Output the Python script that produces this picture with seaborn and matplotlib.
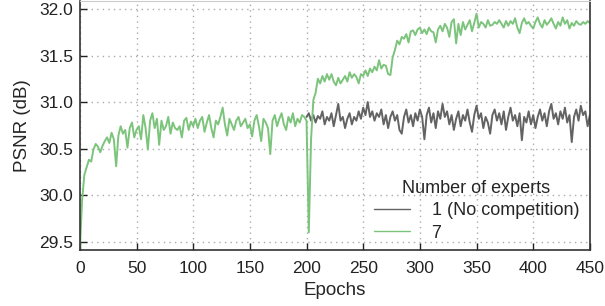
import numpy as np
import pandas as pd
import matplotlib
matplotlib.use("Agg")
import matplotlib.pyplot as plt
import seaborn as sns

# PSNR per epoch (read every 2 epochs off the reference)
psnr_7 = [
    29.42, 29.95, 30.22, 30.30, 30.38, 30.36, 30.49, 30.55, 30.52, 30.46,
    30.53, 30.58, 30.62, 30.56, 30.67, 30.60, 30.31, 30.64, 30.74, 30.66,
    30.70, 30.51, 30.72, 30.78, 30.62, 30.70, 30.74, 30.60, 30.86, 30.72,
    30.49, 30.80, 30.88, 30.72, 30.82, 30.54, 30.80, 30.70, 30.74, 30.84,
    30.66, 30.78, 30.72, 30.70, 30.74, 30.62, 30.80, 30.83, 30.70, 30.79,
    30.74, 30.82, 30.72, 30.80, 30.84, 30.68, 30.78, 30.86, 30.72, 30.62,
    30.80, 30.76, 30.84, 30.94, 30.76, 30.64, 30.82, 30.76, 30.70, 30.80,
    30.84, 30.74, 30.78, 30.82, 30.72, 30.76, 30.63, 30.80, 30.86, 30.74,
    30.58, 30.82, 30.78, 30.72, 30.44, 30.80, 30.86, 30.74, 30.82, 30.88,
    30.76, 30.70, 30.84, 30.78, 30.88, 30.74, 30.82, 30.78, 30.86, 30.84,
    30.80, 29.60, 30.60, 31.02, 31.10, 31.25, 31.20, 31.28, 31.22, 31.30,
    31.24, 31.30, 31.22, 31.18, 31.26, 31.20, 31.24, 31.28, 31.22, 31.32,
    31.26, 31.30, 31.27, 31.20, 31.30, 31.28, 31.34, 31.28, 31.36, 31.32,
    31.38, 31.34, 31.45, 31.36, 31.40, 31.39, 31.30, 31.29, 31.48, 31.56,
    31.66, 31.62, 31.70, 31.68, 31.73, 31.64, 31.76, 31.77, 31.72, 31.78,
    31.80, 31.74, 31.78, 31.73, 31.80, 31.76, 31.75, 31.64, 31.78, 31.82,
    31.76, 31.84, 31.80, 31.70, 31.86, 31.89, 31.63, 31.84, 31.72, 31.86,
    31.78, 31.83, 31.88, 31.76, 31.85, 31.95, 31.80, 31.86, 31.84, 31.80,
    31.88, 31.82, 31.83, 31.86, 31.84, 31.88, 31.84, 31.80, 31.87, 31.82,
    31.87, 31.84, 31.90, 31.80, 31.74, 31.85, 31.90, 31.84, 31.86, 31.82,
    31.79, 31.86, 31.91, 31.84, 31.80, 31.88, 31.83, 31.86, 31.90, 31.84,
    31.79, 31.86, 31.82, 31.91, 31.84, 31.88, 31.79, 31.85, 31.82, 31.87,
    31.84, 31.83, 31.86, 31.84, 31.87, 31.85,
]

# single expert, visible from epoch 200 on (same run as above before that)
psnr_1 = [
    30.84, 30.88, 30.80, 30.86, 30.78, 30.85, 30.82, 30.90, 30.76, 30.84,
    30.80, 30.88, 30.74, 30.86, 30.98, 30.80, 30.84, 30.72, 30.82, 30.88,
    30.76, 30.84, 30.80, 30.90, 30.82, 30.94, 30.86, 31.00, 30.84, 30.90,
    30.80, 30.88, 30.84, 30.92, 30.76, 30.86, 30.72, 30.84, 30.90, 30.80,
    30.86, 30.70, 30.66, 30.84, 30.92, 30.78, 30.86, 30.74, 30.88, 30.80,
    30.92, 30.84, 30.60, 30.86, 30.94, 30.78, 30.88, 30.72, 30.90, 30.82,
    30.98, 30.84, 30.90, 30.76, 30.86, 30.70, 30.82, 30.90, 30.74, 30.86,
    30.80, 30.92, 30.78, 30.68, 30.86, 30.96, 30.82, 30.88, 30.72, 30.84,
    30.78, 30.66, 30.86, 30.92, 30.80, 30.88, 30.76, 30.90, 30.70, 30.84,
    30.94, 30.80, 30.86, 30.74, 30.88, 30.59, 30.84, 30.78, 30.90, 30.76,
    30.86, 30.72, 30.84, 30.92, 30.80, 30.88, 30.74, 30.90, 30.98, 30.82,
    30.88, 30.76, 30.90, 30.82, 30.94, 30.78, 30.86, 30.57, 30.84, 30.92,
    30.80, 30.96, 30.86, 30.90, 30.74, 30.86,
]

epochs_7 = np.arange(0, 451, 2)
epochs_1 = np.arange(200, 451, 2)
labels = ["1 (No competition)", "7"]
colors = ["#636363", "#7cc47c"]

df = pd.concat([
    pd.DataFrame({"epoch": epochs_1, "psnr": psnr_1, "experts": labels[0]}),
    pd.DataFrame({"epoch": epochs_7, "psnr": psnr_7, "experts": labels[1]}),
])

sns.set_style("white")
plt.rcParams["font.family"] = ["Liberation Sans", "DejaVu Sans"]

fig = plt.figure(figsize=(6.05, 3.06), dpi=100)
ax = fig.add_axes([0.132, 0.183, 0.843, 0.815])

sns.lineplot(data=df, x="epoch", y="psnr", hue="experts", hue_order=labels,
             palette=colors, estimator=None, linewidth=1.4, ax=ax)

ax.set_xlim(0, 450)
ax.set_ylim(29.41, 32.09)
ax.set_xticks(np.arange(0, 451, 50))
ax.set_yticks([29.5, 30.0, 30.5, 31.0, 31.5, 32.0])
ax.set_xlabel("Epochs", fontsize=13.5, labelpad=4)
ax.set_ylabel("PSNR (dB)", fontsize=13.5, labelpad=6)
ax.tick_params(direction="in", length=5, width=1, labelsize=12.5,
               colors="#222222", bottom=True, left=True)
ax.tick_params(axis="x", pad=8)
ax.tick_params(axis="y", pad=5)
ax.grid(True, linestyle=(0, (1, 3)), color="#aaaaaa", linewidth=1)

for side in ["left", "bottom", "right"]:
    ax.spines[side].set_color("#333333")
    ax.spines[side].set_linewidth(1.2)
ax.spines["top"].set_color("#cccccc")

handles, _ = ax.get_legend_handles_labels()
leg = ax.legend(handles=handles, labels=labels, title="Number of experts",
                loc="lower right", bbox_to_anchor=(1.0, -0.01), frameon=False,
                fontsize=13, title_fontsize=13, handlelength=2.0,
                handletextpad=1.2, labelspacing=0.3, borderaxespad=0.2)
for line in leg.get_lines():
    line.set_linewidth(1.0)

fig.savefig("out.png", dpi=100)
